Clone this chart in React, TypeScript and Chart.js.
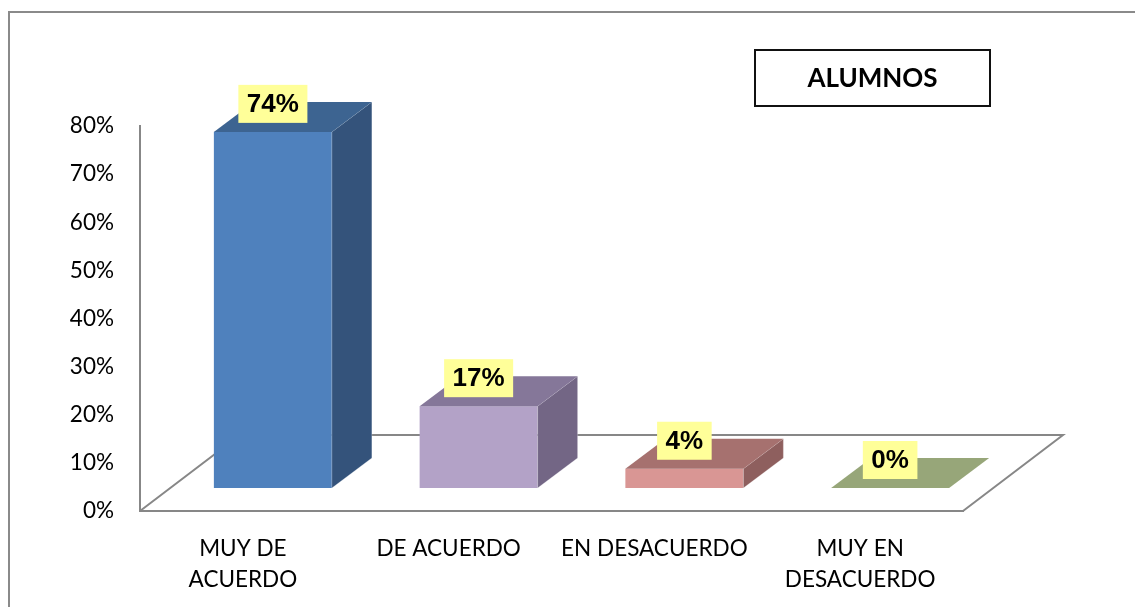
import React, { useEffect, useRef } from 'react';
import { Chart, registerables } from 'chart.js';

Chart.register(...registerables);

// ---- data ----
const categories: (string | string[])[] = [['MUY DE', 'ACUERDO'], 'DE ACUERDO', 'EN DESACUERDO', ['MUY EN', 'DESACUERDO']];
const values = [0.74, 0.17, 0.04, 0];
const valueLabels = ['74%', '17%', '4%', '0%'];
const frontColors = ['#4F81BD', '#B3A2C7', '#D99694', '#9BBB59'];
const topColors = ['#3D6491', '#857799', '#A6716F', '#97A679'];
const sideColors = ['#34537B', '#736685', '#8E5F5E', '#7A8C57'];
const yMax = 0.8;
const yStep = 0.1;
const titleText = 'ALUMNOS';

// ---- 3D geometry / style ----
const ROW_DX = 30, ROW_DY = -23;     // bar row sits behind the front plane
const BAR_DX = 40, BAR_DY = -30;     // bar depth
const FLOOR_DX = 100, FLOOR_DY = -76; // floor depth
const AXIS_GRAY = '#878787';

const threeD = {
  id: 'threeD',
  beforeDraw(chart: any) {
    const ctx = chart.ctx;
    ctx.save();
    ctx.strokeStyle = '#8A8A8A';
    ctx.lineWidth = 2;
    ctx.beginPath();
    ctx.moveTo(9, chart.height);
    ctx.lineTo(9, 12);
    ctx.lineTo(chart.width, 12);
    ctx.stroke();
    ctx.restore();
  },
  beforeDatasetsDraw(chart: any) {
    const { ctx, chartArea } = chart;
    const { left, right, bottom } = chartArea;
    ctx.save();
    ctx.strokeStyle = AXIS_GRAY;
    ctx.lineWidth = 2;
    ctx.beginPath();
    ctx.moveTo(left, bottom);
    ctx.lineTo(left + FLOOR_DX, bottom + FLOOR_DY);
    ctx.lineTo(right + FLOOR_DX, bottom + FLOOR_DY);
    ctx.lineTo(right, bottom);
    ctx.stroke();
    ctx.restore();
  },
  afterDatasetsDraw(chart: any) {
    const ctx = chart.ctx;
    const meta = chart.getDatasetMeta(0);
    ctx.save();
    meta.data.forEach((bar: any, i: number) => {
      const p = bar.getProps(['x', 'y', 'base', 'width'], true);
      const x0 = p.x - p.width / 2 + ROW_DX;
      const x1 = p.x + p.width / 2 + ROW_DX;
      const yt = p.y + ROW_DY;
      const yb = p.base + ROW_DY;
      ctx.lineWidth = 1;
      ctx.strokeStyle = 'rgba(255,255,255,0.25)';
      if (yb - yt > 0.5) {
        ctx.fillStyle = frontColors[i];
        ctx.fillRect(x0, yt, x1 - x0, yb - yt);
        ctx.fillStyle = sideColors[i];
        ctx.beginPath();
        ctx.moveTo(x1, yt);
        ctx.lineTo(x1 + BAR_DX, yt + BAR_DY);
        ctx.lineTo(x1 + BAR_DX, yb + BAR_DY);
        ctx.lineTo(x1, yb);
        ctx.closePath();
        ctx.fill();
        ctx.stroke();
      }
      ctx.fillStyle = topColors[i];
      ctx.beginPath();
      ctx.moveTo(x0, yt);
      ctx.lineTo(x1, yt);
      ctx.lineTo(x1 + BAR_DX, yt + BAR_DY);
      ctx.lineTo(x0 + BAR_DX, yt + BAR_DY);
      ctx.closePath();
      ctx.fill();
    });
    ctx.font = 'bold 26px "Liberation Sans", Arial, sans-serif';
    ctx.textAlign = 'center';
    ctx.textBaseline = 'middle';
    meta.data.forEach((bar: any, i: number) => {
      const p = bar.getProps(['x', 'y'], true);
      const cx = p.x + ROW_DX;
      const cy = p.y + ROW_DY - 28;
      const w = ctx.measureText(valueLabels[i]).width + 17;
      const h = 38;
      ctx.fillStyle = '#FFFF99';
      ctx.fillRect(cx - w / 2, cy - h / 2, w, h);
      ctx.fillStyle = '#000';
      ctx.fillText(valueLabels[i], cx, cy + 1);
    });
    ctx.restore();
  },
  afterDraw(chart: any) {
    const ctx = chart.ctx;
    ctx.save();
    const bx = 755, by = 50, bw = 235, bh = 56;
    ctx.fillStyle = '#fff';
    ctx.fillRect(bx, by, bw, bh);
    ctx.strokeStyle = '#111';
    ctx.lineWidth = 2;
    ctx.strokeRect(bx, by, bw, bh);
    ctx.fillStyle = '#000';
    ctx.font = 'bold 26px Lato, "Open Sans", sans-serif';
    ctx.textAlign = 'center';
    ctx.textBaseline = 'middle';
    ctx.fillText(titleText, bx + bw / 2, by + bh / 2 + 1);
    ctx.restore();
  },
};

export default function App() {
  const ref = useRef<HTMLCanvasElement | null>(null);
  useEffect(() => {
    if (!ref.current) return;
    const chart = new Chart(ref.current, {
      type: 'bar',
      data: {
        labels: categories,
        datasets: [
          {
            data: values,
            backgroundColor: 'rgba(0,0,0,0)',
            borderWidth: 0,
            categoryPercentage: 1,
            barPercentage: 0.5735,
          },
        ],
      },
      options: {
        responsive: false,
        animation: false,
        layout: { padding: { left: 10, right: 172, top: 126, bottom: 0 } },
        plugins: { legend: { display: false }, tooltip: { enabled: false }, title: { display: false } },
        scales: {
          x: {
            grid: { display: false, drawTicks: false },
            border: { display: true, color: AXIS_GRAY, width: 2 },
            ticks: {
              color: '#000',
              font: { family: 'Lato', size: 22.5, lineHeight: 31 / 22.5 },
              padding: 22,
              maxRotation: 0,
              autoSkip: false,
            },
            afterFit: (s: any) => { s.height = 96; },
          },
          y: {
            min: 0,
            max: yMax,
            grid: { display: false, drawTicks: false },
            border: { display: true, color: AXIS_GRAY, width: 2 },
            ticks: {
              stepSize: yStep,
              color: '#000',
              font: { family: 'Lato', size: 22.5 },
              padding: 26,
              callback: (v: any) => Math.round(Number(v) * 100) + '%',
            },
            afterFit: (s: any) => { s.width = 130; },
          },
        },
      },
      plugins: [threeD],
    });
    return () => chart.destroy();
  }, []);
  return (
    <div style={{ position: 'fixed', left: 0, top: 0, width: 1135, height: 607, background: '#fff' }}>
      <canvas ref={ref} width={1135} height={607} />
    </div>
  );
}
